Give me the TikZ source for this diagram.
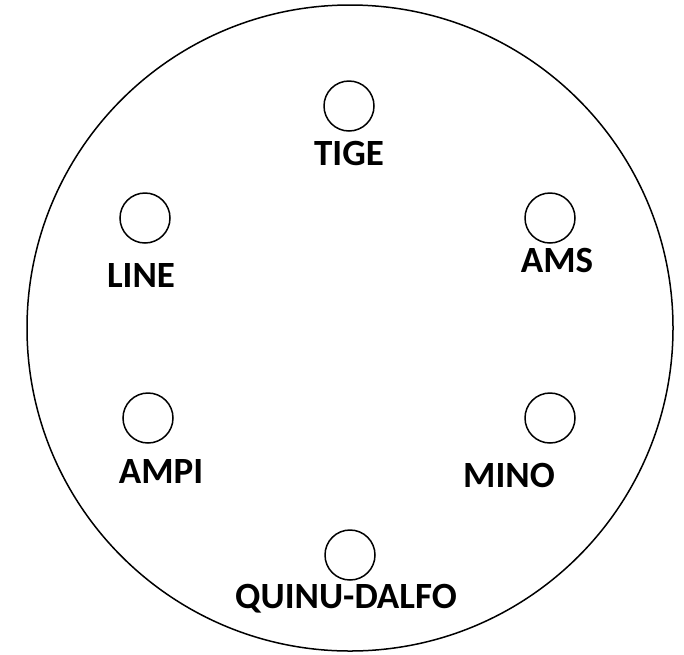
\documentclass[tikz,border=0pt]{standalone}
\usepackage{fontspec}
\setmainfont{Carlito}
\begin{document}
\begin{tikzpicture}[x=1pt,y=-1pt,
  hole/.style={circle,draw,line width=1.5pt,minimum size=50pt,inner sep=0pt},
  lab/.style={font=\bfseries\fontsize{37}{40}\selectfont,anchor=base,inner sep=0pt}]
\useasboundingbox (0,0) rectangle (684,654);
\node[circle,draw,line width=1.5pt,minimum size=646pt,inner sep=0pt] (plate) at (350,328) {};
\node[hole] (tige) at (349,106) {};
\node[lab] (tigel) at (349,165) {TIGE};
\node[hole] (line) at (145,218) {};
\node[lab] (linel) at (141,287) {LINE};
\node[hole] (ams) at (550,218) {};
\node[lab] (amsl) at (557,272) {AMS};
\node[hole] (ampi) at (148,418) {};
\node[lab] (ampil) at (161,483) {AMPI};
\node[hole] (mino) at (550,418) {};
\node[lab] (minol) at (509,487) {MINO};
\node[hole] (quinu) at (350,555) {};
\node[lab] (quinul) at (346,608) {QUINU-DALFO};
\end{tikzpicture}
\end{document}
